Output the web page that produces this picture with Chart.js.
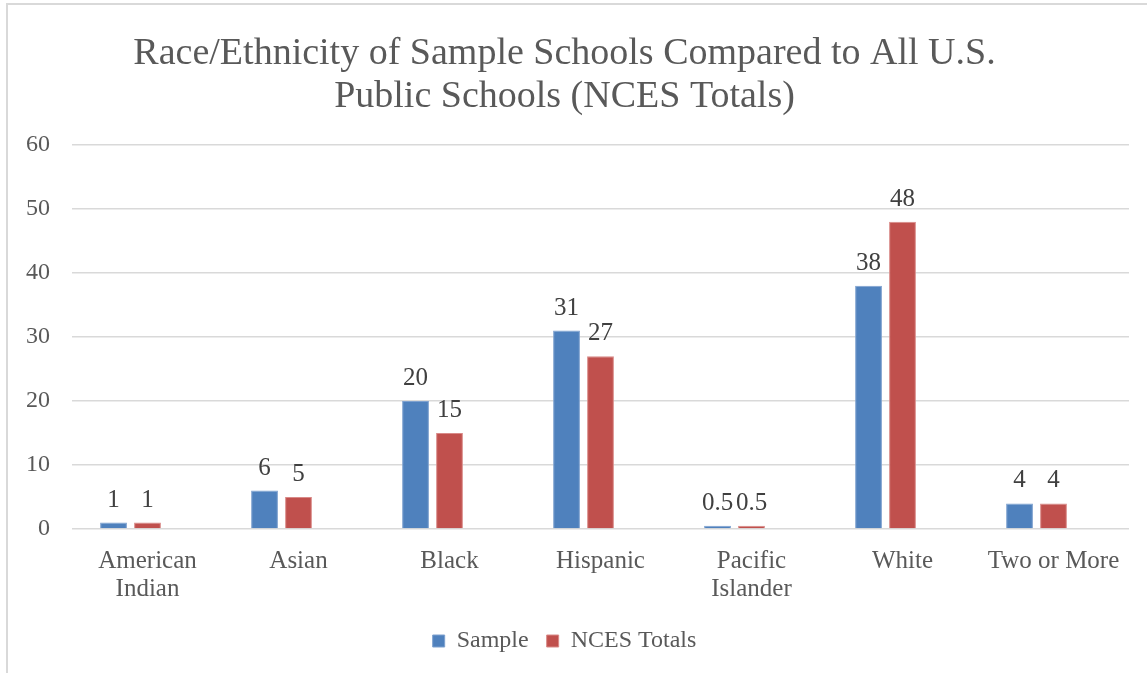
<!DOCTYPE html>
<html>
<head>
<meta charset="utf-8">
<script src="https://cdn.jsdelivr.net/npm/chart.js@4/dist/chart.umd.min.js"></script>
<style>
  html, body { margin: 0; padding: 0; background: #fff; }
  #wrap { position: relative; width: 1147px; height: 673px; overflow: hidden; }
  #frame { position: absolute; left: 6px; top: 3px; width: 1200px; height: 700px;
           border-left: 2px solid #d9d9d9; border-top: 2px solid #d9d9d9; }
  #chart { position: absolute; left: 0; top: 0; }
</style>
</head>
<body>
<div id="wrap">
  <div id="frame"></div>
  <canvas id="chart" width="1147" height="673"></canvas>
</div>
<script>
const categories = [["American", "Indian"], "Asian", "Black", "Hispanic", ["Pacific", "Islander"], "White", "Two or More"];
const sampleValues = [1, 6, 20, 31, 0.5, 38, 4];
const ncesValues = [1, 5, 15, 27, 0.5, 48, 4];
// Excel keeps an empty third series, which pushes the pair left of the tick
const emptyValues = [null, null, null, null, null, null, null];
const yTicks = [0, 10, 20, 30, 40, 50, 60];

const FONT = "'Liberation Serif', 'DejaVu Serif', serif";
const GREY = "#595959";

// value labels above each bar
const barLabels = {
  id: "barLabels",
  afterDatasetsDraw(chart) {
    const ctx = chart.ctx;
    ctx.save();
    ctx.font = "25px " + FONT;
    ctx.fillStyle = "#404040";
    ctx.textAlign = "center";
    ctx.textBaseline = "alphabetic";
    chart.data.datasets.forEach((ds, i) => {
      if (ds.label === "") return;
      chart.getDatasetMeta(i).data.forEach((bar, j) => {
        const v = ds.data[j];
        if (v == null) return;
        ctx.fillText(String(v), bar.x, bar.y - 16);
      });
    });
    ctx.restore();
  }
};

new Chart(document.getElementById("chart"), {
  type: "bar",
  data: {
    labels: categories,
    datasets: [
      { label: "Sample", data: sampleValues, backgroundColor: "#4f81bd", borderColor: "#7ea1cf", borderWidth: 1 },
      { label: "NCES Totals", data: ncesValues, backgroundColor: "#c0504d", borderColor: "#d98a88", borderWidth: 1 },
      { label: "", data: emptyValues, backgroundColor: "rgba(0,0,0,0)" }
    ]
  },
  options: {
    responsive: false,
    animation: false,
    datasets: { bar: { categoryPercentage: 0.675, barPercentage: 0.79 } },
    layout: { padding: { left: 0, right: 18, top: 0, bottom: 10 } },
    plugins: {
      title: {
        display: true,
        text: ["Race/Ethnicity of Sample Schools Compared to All U.S.", "Public Schools (NCES Totals)"],
        color: GREY,
        font: { family: FONT, size: 38, weight: "normal", lineHeight: 1.13 },
        padding: { top: 33, bottom: 26 }
      },
      legend: {
        position: "bottom",
        labels: {
          color: GREY,
          font: { family: FONT, size: 24 },
          boxWidth: 12,
          boxHeight: 12,
          padding: 18,
          filter: item => item.text !== ""
        }
      },
      tooltip: { enabled: false }
    },
    scales: {
      x: {
        grid: { display: false },
        border: { display: false },
        ticks: { color: GREY, font: { family: FONT, size: 25, lineHeight: 1.12 }, padding: 10, maxRotation: 0 },
        afterFit: s => { s.height = 82; }
      },
      y: {
        min: 0,
        max: 60,
        afterBuildTicks: s => { s.ticks = yTicks.map(v => ({ value: v })); },
        grid: { color: "#d9d9d9", lineWidth: 1.5, drawTicks: false },
        border: { display: false },
        ticks: { color: GREY, font: { family: FONT, size: 24 }, padding: 22 },
        afterFit: s => { s.width = 72; }
      }
    }
  },
  plugins: [barLabels]
});
</script>
</body>
</html>
